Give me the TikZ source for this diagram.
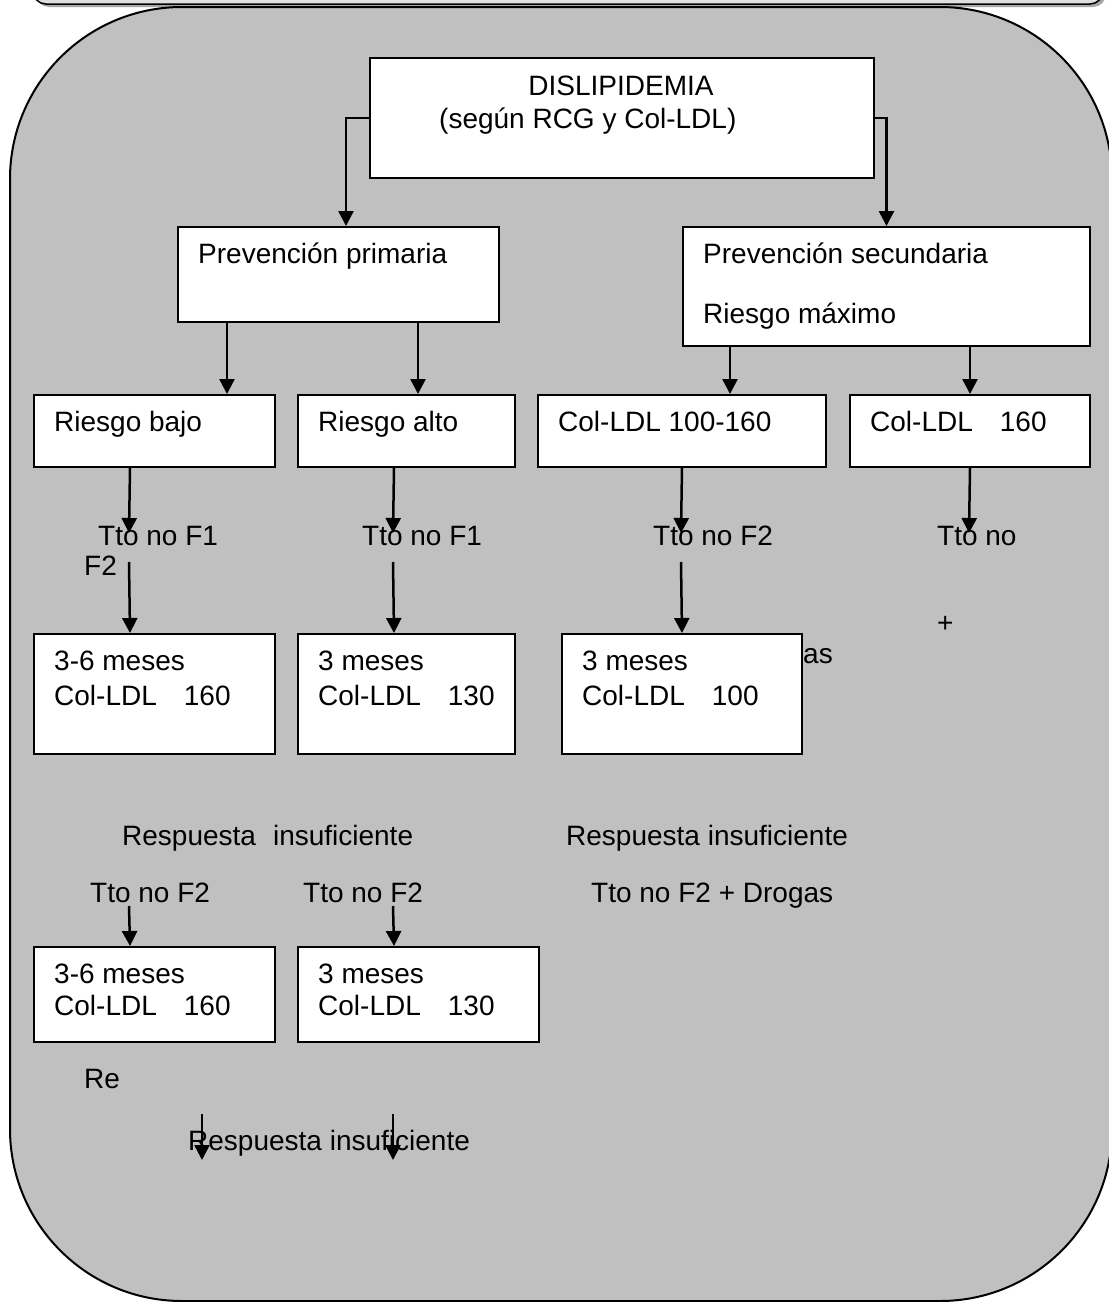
\documentclass[tikz,border=0pt]{standalone}
\usepackage{fontspec}
\setmainfont{Liberation Sans}
\usepackage{xcolor}
\usepackage{tikz}
\usetikzlibrary{arrows.meta, positioning}
\definecolor{fondo}{RGB}{192,192,192}
\tikzstyle{box} = [rectangle, draw=black, line width=2pt, fill=white, anchor=north west, inner sep=0pt]
\tikzstyle{txt} = [anchor=base west, inner sep=0pt, font=\fontsize{28}{34}\selectfont]
\tikzstyle{arrow} = [line width=2.5pt, -{Triangle[length=15pt,width=15pt]}]
\tikzstyle{line} = [line width=2.5pt]
\newcommand{\sep}{\hspace{27pt}}

\begin{document}
\begin{tikzpicture}[x=1pt, y=-1pt]
	\useasboundingbox (0,0) rectangle (1109,1302);
	
	% Background frames
	\fill[gray!70, rounded corners=13] (36,-60) rectangle (1106,7);
	\draw[line width=1.5pt, fill=gray!25, rounded corners=13] (33,-60) rectangle (1103,4);
	\draw[line width=2pt, fill=fondo, rounded corners=172] (10,7) rectangle (1112,1301);
	
	% Text hidden behind the box
	\node (as) [txt] at (803,663) {as};
	
	% Nodes for top
	\node (dis) [box, minimum width=504, minimum height=120] at (369,57) {};
	\node (prim) [box, minimum width=321, minimum height=95] at (177,226) {};
	\node (sec) [box, minimum width=407, minimum height=119] at (682,226) {};
	
	% Nodes for risk levels
	\node (bajo) [box, minimum width=241, minimum height=72] at (33,394) {};
	\node (alto) [box, minimum width=217, minimum height=72] at (297,394) {};
	\node (cien) [box, minimum width=288, minimum height=72] at (537,394) {};
	\node (cseis) [box, minimum width=240, minimum height=72] at (849,394) {};
	
	% Nodes for controls
	\node (mbajo) [box, minimum width=241, minimum height=120] at (33,633) {};
	\node (malto) [box, minimum width=217, minimum height=120] at (297,633) {};
	\node (msec) [box, minimum width=240, minimum height=120] at (561,633) {};
	\node (mbajob) [box, minimum width=241, minimum height=95] at (33,946) {};
	\node (maltob) [box, minimum width=241, minimum height=95] at (297,946) {};
	
	% Free ends
	\coordinate (tbajo) at (129,533);
	\coordinate (talto) at (393,533);
	\coordinate (tcien) at (681,533);
	\coordinate (tseis) at (969,533);
	\coordinate (sbajo) at (129,562);
	\coordinate (salto) at (393,562);
	\coordinate (scien) at (681,562);
	\coordinate (rbajo) at (129,906);
	\coordinate (ralto) at (393,906);
	\coordinate (fbajo) at (202,1114);
	\coordinate (falto) at (393,1114);
	\coordinate (gbajo) at (202,1160);
	\coordinate (galto) at (393,1160);
	
	% Arrows
	\draw [arrow] (dis.west) -| ([xshift=7.5]prim.north);
	\draw [arrow] (dis.east) -| (sec.north);
	\draw [arrow] ([xshift=-111.5]prim.south) -- ([xshift=72.5]bajo.north);
	\draw [arrow] ([xshift=79.5]prim.south) -- ([xshift=11.5]alto.north);
	\draw [arrow] ([xshift=-156.5]sec.south) -- ([xshift=48]cien.north);
	\draw [arrow] ([xshift=83.5]sec.south) -- (cseis.north);
	\draw [arrow] ([xshift=-24.5]bajo.south) -- (tbajo);
	\draw [arrow] ([xshift=-12.5]alto.south) -- (talto);
	\draw [arrow] (cien.south) -- (tcien);
	\draw [arrow] (cseis.south) -- (tseis);
	\draw [arrow] (sbajo) -- ([xshift=-24.5]mbajo.north);
	\draw [arrow] (salto) -- ([xshift=-12.5]malto.north);
	\draw [arrow] (scien) -- (msec.north);
	\draw [arrow] (rbajo) -- ([xshift=-24.5]mbajob.north);
	\draw [arrow] (ralto) -- ([xshift=-24.5]maltob.north);
	\draw [arrow] (fbajo) -- (gbajo);
	\draw [arrow] (falto) -- (galto);
	
	% Labels in boxes
	\node (ldis) [txt, anchor=base] at (621,95) {DISLIPIDEMIA};
	\node (ldisb) [txt] at (439,128) {(según RCG y Col-LDL)};
	\node (lprim) [txt] at (198,263) {Prevención primaria};
	\node (lsec) [txt] at (703,263) {Prevención secundaria};
	\node (lsecb) [txt] at (703,323) {Riesgo máximo};
	\node (lbajo) [txt] at (54,431) {Riesgo bajo};
	\node (lalto) [txt] at (318,431) {Riesgo alto};
	\node (lcien) [txt] at (558,431) {Col-LDL 100-160};
	\node (lseis) [txt] at (870,431) {Col-LDL\sep160};
	\node (lmbajo) [txt] at (54,670) {3-6 meses};
	\node (lmbajob) [txt] at (54,705) {Col-LDL\sep160};
	\node (lmalto) [txt] at (318,670) {3 meses};
	\node (lmaltob) [txt] at (318,705) {Col-LDL\sep130};
	\node (lmsec) [txt] at (582,670) {3 meses};
	\node (lmsecb) [txt] at (582,705) {Col-LDL\sep100};
	\node (lnbajo) [txt] at (54,983) {3-6 meses};
	\node (lnbajob) [txt] at (54,1015) {Col-LDL\sep160};
	\node (lnalto) [txt] at (318,983) {3 meses};
	\node (lnaltob) [txt] at (318,1015) {Col-LDL\sep130};
	
	% Labels on the arrows
	\node (tto1) [txt] at (98,545) {Tto no F1};
	\node (ftwo) [txt] at (84,575) {F2};
	\node (tto2) [txt] at (362,545) {Tto no F1};
	\node (tto3) [txt] at (653,545) {Tto no F2};
	\node (tto4) [txt] at (937,545) {Tto no};
	\node (mas) [txt] at (937,632) {+};
	\node (resp1) [txt] at (122,845) {Respuesta\hspace{17pt}insuficiente};
	\node (resp2) [txt] at (566,845) {Respuesta insuficiente};
	\node (tto5) [txt] at (90,902) {Tto no F2};
	\node (tto6) [txt] at (303,902) {Tto no F2};
	\node (tto7) [txt] at (591,902) {Tto no F2 + Drogas};
	\node (re) [txt] at (84,1088) {Re};
	\node (resp3) [txt] at (188,1150) {Respuesta insuficiente};
	
\end{tikzpicture}
\end{document}
